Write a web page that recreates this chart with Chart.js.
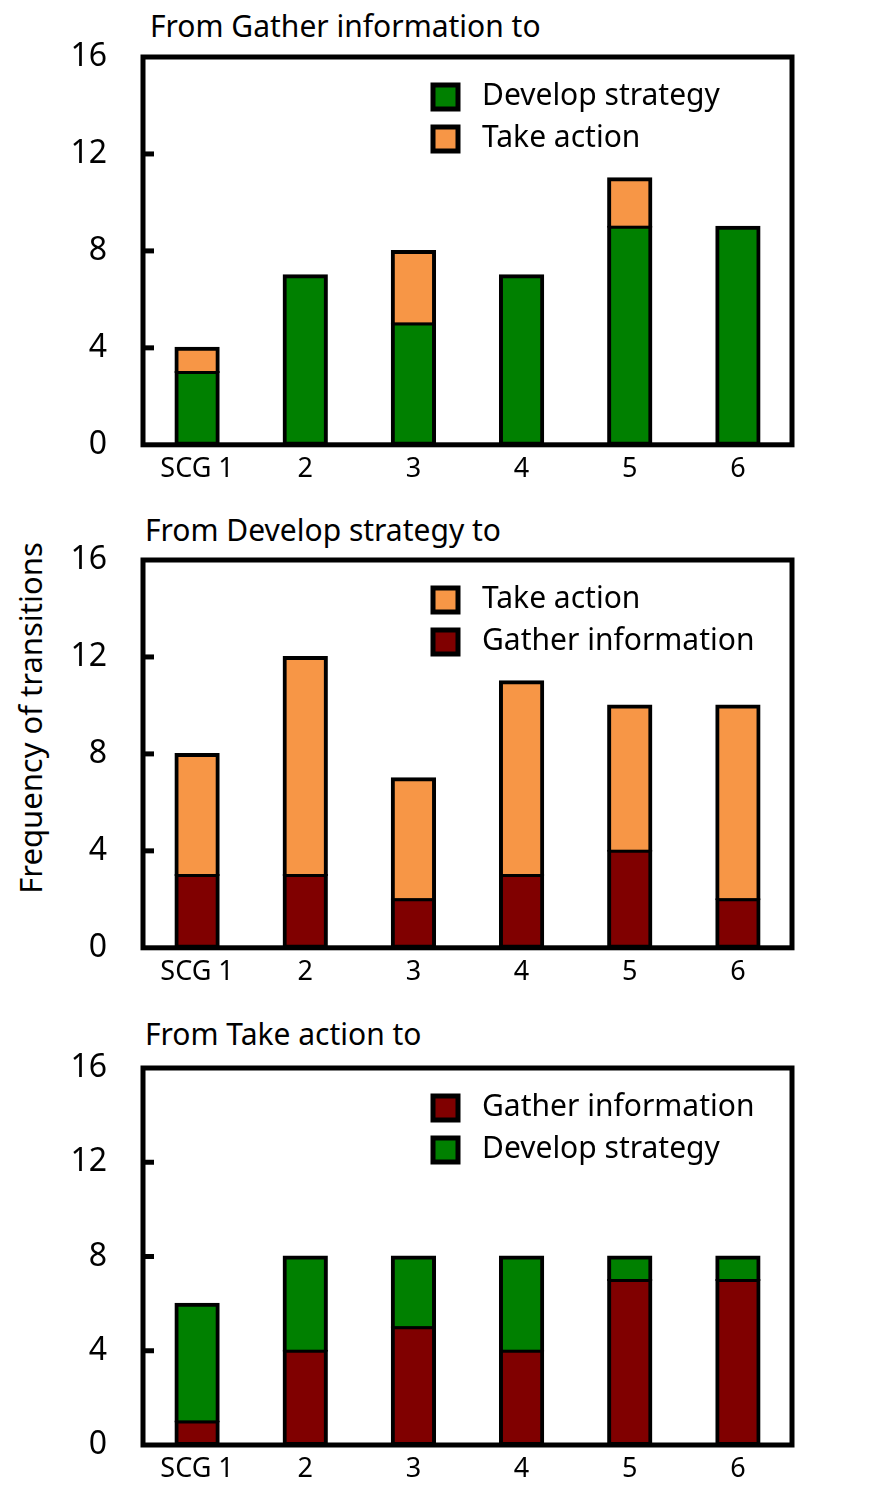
<!DOCTYPE html>
<html>
<head>
<meta charset="utf-8">
<script src="https://cdn.jsdelivr.net/npm/chart.js@4.4.0/dist/chart.umd.min.js"></script>
<style>
  body { margin: 0; background: #fff; width: 891px; height: 1490px; position: relative; overflow: hidden; font-family: "Noto Sans", "Open Sans", sans-serif; }
  canvas { position: absolute; left: 0; }
  .title { position: absolute; font-size: 30px; color: #000; white-space: nowrap; }
  .ylab { position: absolute; font-size: 31px; white-space: nowrap; transform: translate(-50%, -50%) rotate(-90deg); }
</style>
</head>
<body>
<div class="title" style="left:150px; top:5px;">From Gather information to</div>
<div class="title" style="left:145px; top:509px;">From Develop strategy to</div>
<div class="title" style="left:145px; top:1013px;">From Take action to</div>
<div class="ylab" style="left:30px; top:718px;">Frequency of transitions</div>

<canvas id="c1" width="891" height="500" style="top:0px"></canvas>
<canvas id="c2" width="891" height="500" style="top:503px"></canvas>
<canvas id="c3" width="891" height="490" style="top:1011px"></canvas>

<script>
var categories = ["SCG 1", "2", "3", "4", "5", "6"];
var yTicks = [0, 4, 8, 12, 16];

// From Gather information to ...
var gatherToDevelop = [3, 7, 5, 7, 9, 9];
var gatherToAction = [1, 0, 3, 0, 2, 0];

// From Develop strategy to ...
var developToGather = [3, 3, 2, 3, 4, 2];
var developToAction = [5, 9, 5, 8, 6, 8];

// From Take action to ...
var actionToGather = [1, 4, 5, 4, 7, 7];
var actionToDevelop = [5, 4, 3, 4, 1, 1];

var GREEN = "#008000", ORANGE = "#F79646", RED = "#800000";
var FONT = "'Noto Sans', 'Open Sans', sans-serif";

// frame, inward ticks and legend inside the plot
var framePlugin = {
  id: "frame",
  afterDraw: function (chart) {
    var ctx = chart.ctx, a = chart.chartArea, y = chart.scales.y;
    ctx.save();
    ctx.strokeStyle = "#000";
    ctx.lineWidth = 5;
    ctx.strokeRect(a.left, a.top, a.right - a.left, a.bottom - a.top);
    yTicks.forEach(function (v) {
      if (v == 0 || v == 16) return;
      var py = y.getPixelForValue(v);
      ctx.beginPath();
      ctx.moveTo(a.left, py);
      ctx.lineTo(a.left + 11, py);
      ctx.stroke();
    });
    var order = chart.options.plugins.frame.order;
    ctx.font = "30px " + FONT;
    ctx.textBaseline = "middle";
    order.forEach(function (i, row) {
      var ds = chart.data.datasets[i];
      var bx = 433, by = a.top + 28 + row * 42;
      ctx.fillStyle = ds.backgroundColor;
      ctx.lineWidth = 5;
      ctx.fillRect(bx, by, 25, 24);
      ctx.strokeRect(bx, by, 25, 24);
      ctx.fillStyle = "#000";
      ctx.fillText(ds.label, 482, by + 11);
    });
    ctx.restore();
  }
};

// stacked segments share one line where they meet
function segBorder(ctx) {
  var ds = ctx.chart.data.datasets;
  var other = ds[1 - ctx.datasetIndex].data[ctx.dataIndex];
  if (ctx.datasetIndex == 0) {
    return { left: 4, right: 4, bottom: 4, top: other > 0 ? 3 : 4 };
  }
  return { left: 4, right: 4, top: 4, bottom: ds[0].data[ctx.dataIndex] > 0 ? 2 : 4 };
}

function makeChart(id, datasets, order, top, bottomSpace) {
  return new Chart(id, {
    type: "bar",
    data: { labels: categories, datasets: datasets },
    plugins: [framePlugin],
    options: {
      responsive: false,
      animation: false,
      layout: { padding: { top: top, right: 99, left: 0, bottom: 0 } },
      plugins: {
        legend: { display: false },
        tooltip: { enabled: false },
        frame: { order: order }
      },
      datasets: { bar: { categoryPercentage: 1, barPercentage: 0.4, borderWidth: segBorder, borderColor: "#000", borderSkipped: false, inflateAmount: 1 } },
      scales: {
        x: {
          stacked: true,
          grid: { display: false, drawTicks: false },
          border: { display: false },
          ticks: { color: "#000", font: { size: 27, family: FONT }, padding: 8, maxRotation: 0 },
          afterFit: function (s) { s.height = bottomSpace; }
        },
        y: {
          stacked: true,
          min: 0, max: 16,
          grid: { display: false, drawTicks: false },
          border: { display: false },
          ticks: { stepSize: 4, color: "#000", font: { size: 32, family: FONT }, padding: 36 },
          afterFit: function (s) { s.width = 143; }
        }
      }
    }
  });
}

makeChart("c1", [
  { label: "Develop strategy", data: gatherToDevelop, backgroundColor: GREEN },
  { label: "Take action", data: gatherToAction, backgroundColor: ORANGE }
], [0, 1], 57, 55);

makeChart("c2", [
  { label: "Gather information", data: developToGather, backgroundColor: RED },
  { label: "Take action", data: developToAction, backgroundColor: ORANGE }
], [1, 0], 57, 55);

makeChart("c3", [
  { label: "Gather information", data: actionToGather, backgroundColor: RED },
  { label: "Develop strategy", data: actionToDevelop, backgroundColor: GREEN }
], [0, 1], 57, 56);
</script>
</body>
</html>
